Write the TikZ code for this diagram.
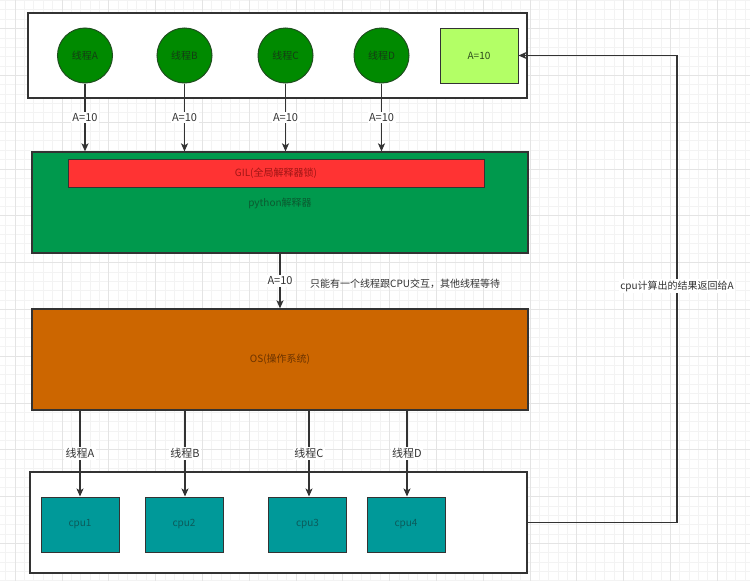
\documentclass[tikz,border=0pt]{standalone}
\usepackage{fontspec}
\setmainfont{Noto Sans CJK SC}
\usetikzlibrary{arrows.meta}
\definecolor{gminor}{HTML}{F3F3F3}
\definecolor{gmajor}{HTML}{E4E4E4}
\definecolor{edgec}{HTML}{333333}
\definecolor{circfill}{HTML}{008A00}
\definecolor{circdraw}{HTML}{1F4F1F}
\definecolor{circtxt}{HTML}{143D14}
\definecolor{afill}{HTML}{B3FF66}
\definecolor{atxt}{HTML}{2B4A1B}
\definecolor{gfill}{HTML}{00994D}
\definecolor{gtxt}{HTML}{0B5A30}
\definecolor{rfill}{HTML}{FF3333}
\definecolor{rtxt}{HTML}{A01515}
\definecolor{ofill}{HTML}{CC6600}
\definecolor{otxt}{HTML}{6B3300}
\definecolor{tfill}{HTML}{009999}
\definecolor{ttxt}{HTML}{0B5C5C}
\tikzset{
  txt/.style={font=\fontsize{10}{12}\selectfont, inner sep=1pt},
  frame/.style={draw=edgec, line width=1.3pt, fill=white},
  thread/.style={circle, draw=circdraw, line width=1pt, fill=circfill, minimum size=55pt, inner sep=0pt, txt, text=circtxt},
  valbox/.style={draw=edgec, line width=1pt, fill=afill, minimum width=78pt, minimum height=55pt, inner sep=0pt, txt, text=atxt},
  bigbox/.style={draw=edgec, line width=1.3pt, minimum width=496pt, minimum height=101pt, inner sep=0pt, txt},
  cpubox/.style={draw=edgec, line width=1pt, fill=tfill, minimum width=78pt, minimum height=55pt, inner sep=0pt, txt, text=ttxt},
  arr/.style={draw=edgec, line width=1.2pt, -{Stealth[length=8pt, width=7pt, inset=2pt]}},
  lbl/.style={font=\fontsize{11}{13}\selectfont, fill=white, text=edgec, inner sep=1.5pt},
}
\begin{document}
\begin{tikzpicture}[x=1pt, y=-1pt]
\useasboundingbox (0,0) rectangle (750,581);
% background grid
\fill[white] (0,0) rectangle (750,581);
\foreach \i in {0,...,80} {
  \pgfmathsetmacro{\gx}{15+9.36*(\i-1)}
  \draw[gminor, line width=0.5pt] (\gx,0) -- (\gx,581);
}
\foreach \i in {0,...,63} {
  \pgfmathsetmacro{\gy}{28.4+9.36*(\i-3)}
  \draw[gminor, line width=0.5pt] (0,\gy) -- (750,\gy);
}
\foreach \i in {0,...,16} {
  \pgfmathsetmacro{\gx}{15+46.8*\i}
  \draw[gmajor, line width=0.6pt] (\gx,0) -- (\gx,581);
}
\foreach \i in {0,...,13} {
  \pgfmathsetmacro{\gy}{28.4+46.8*(\i-1)}
  \draw[gmajor, line width=0.6pt] (0,\gy) -- (750,\gy);
}

% top frame
\node[frame, minimum width=499pt, minimum height=85pt, inner sep=0pt] (topbox) at (277.5,55.5) {};
\node[thread] (tA) at (85,55.5) {线程A};
\node[thread] (tB) at (184.5,55.5) {线程B};
\node[thread] (tC) at (285.5,55.5) {线程C};
\node[thread] (tD) at (381.5,55.5) {线程D};
\node[valbox] (abox) at (479,55.5) {A=10};

% interpreter
\node[bigbox, fill=gfill] (gbox) at (280,202.5) {};
\node[draw=edgec, line width=1pt, fill=rfill, minimum width=416pt, minimum height=28pt, inner sep=0pt, txt, text=rtxt] (gil) at (276,173) {GIL(全局解释器锁)};
\node[txt, text=gtxt] (pyt) at (280,203) {python解释器};

% OS
\node[bigbox, fill=ofill, text=otxt] (os) at (280,359.5) {OS(操作系统)};

% bottom frame
\node[frame, minimum width=497pt, minimum height=101pt, inner sep=0pt] (bbox) at (278.5,522.5) {};
\node[cpubox] (c1) at (80,524.5) {cpu1};
\node[cpubox] (c2) at (184,524.5) {cpu2};
\node[cpubox] (c3) at (307.5,524.5) {cpu3};
\node[cpubox] (c4) at (406,524.5) {cpu4};

% arrows top
\foreach \t in {tA,tB,tC,tD} {
  \draw[arr] (\t.south) -- (\t.south |- gbox.north) node[lbl, pos=0.5] {A=10};
}

% interpreter -> OS
\draw[arr] (gbox.south) -- (os.north) node[lbl, pos=0.5] (mid) {A=10};
\node[txt, text=edgec, anchor=west] (note) at (309,284) {只能有一个线程跟CPU交互，其他线程等待};

% OS -> cpus
\draw[arr] (c1.north |- os.south) -- (c1.north) node[lbl, pos=0.5] {线程A};
\draw[arr] ([xshift=1pt]c2.north |- os.south) -- ([xshift=1pt]c2.north) node[lbl, pos=0.5] {线程B};
\draw[arr] ([xshift=1.5pt]c3.north |- os.south) -- ([xshift=1.5pt]c3.north) node[lbl, pos=0.5] {线程C};
\draw[arr] ([xshift=1pt]c4.north |- os.south) -- ([xshift=1pt]c4.north) node[lbl, pos=0.5] {线程D};

% return path
\coordinate (ret) at (677,286);
\draw[arr] (bbox.east) -| (ret) |- (abox.east);
\node[txt, fill=white, text=edgec, inner sep=1.5pt] (retl) at (ret) {cpu计算出的结果返回给A};
\end{tikzpicture}
\end{document}
